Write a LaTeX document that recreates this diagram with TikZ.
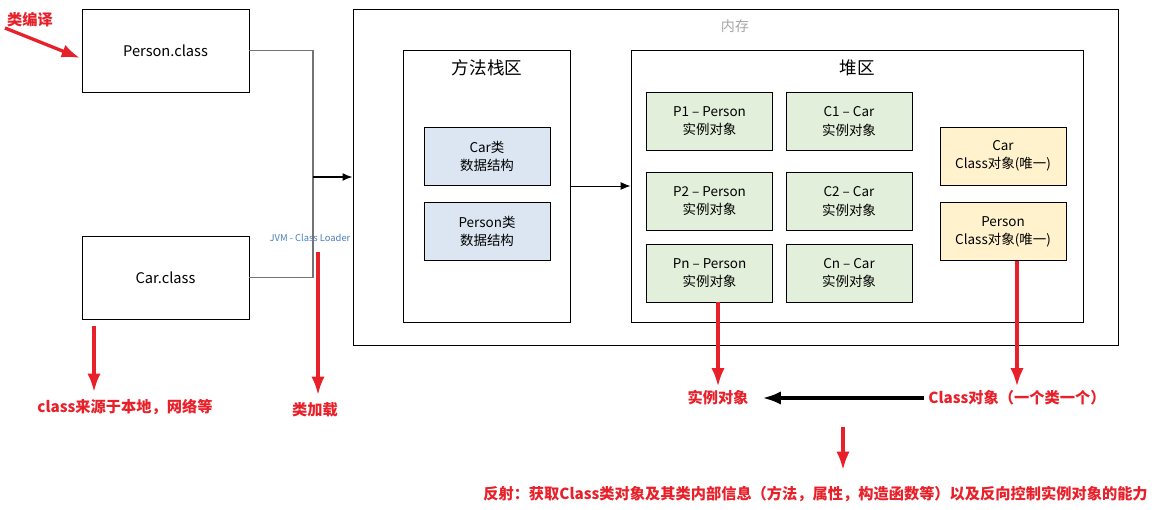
\documentclass[tikz,border=0pt]{standalone}
\usepackage{fontspec}
\setmainfont{Noto Sans CJK SC}
\usetikzlibrary{arrows.meta}
\definecolor{notered}{HTML}{E8202A}
\definecolor{loaderblue}{HTML}{4A7EBB}
\definecolor{datablue}{HTML}{DCE6F2}
\definecolor{objgreen}{HTML}{E2EFDA}
\definecolor{clsyellow}{HTML}{FFF2CC}
\definecolor{titlegray}{HTML}{A6A6A6}
\begin{document}
\begin{tikzpicture}[x=0.03cm,y=-0.03cm,
  box/.style={draw,line width=0.8pt,align=center,inner sep=0pt},
  filebox/.style={box,minimum width=5.01cm,minimum height=2.49cm,font=\fontsize{12.5}{14}\selectfont},
  areabox/.style={box,minimum width=#1,minimum height=8.16cm},
  smallbox/.style={box,minimum width=3.78cm,minimum height=1.74cm,font=\fontsize{11.5}{15.5}\selectfont},
  areatitle/.style={font=\fontsize{15}{18}\selectfont},
  note/.style={text=notered,font=\bfseries\fontsize{13}{15}\selectfont},
  redarrow/.style={draw=notered,line width=2.8pt,-{Latex[length=5.5mm,width=4mm]}},
  link/.style={draw=black!55,line width=1.2pt}]
\useasboundingbox (0,0) rectangle (1159,510);
% coordinates
\coordinate (join)          at (313,177);
\coordinate (compiletail)   at (  5, 28);
\coordinate (compiletip)    at ( 80, 58);
\coordinate (sourcetail)    at ( 94,326);
\coordinate (sourcetip)     at ( 94,392);
\coordinate (loadtail)      at (318,252);
\coordinate (loadtip)       at (318,395);
\coordinate (reflecttail)   at (843,427);
\coordinate (reflecttip)    at (843,470);
% memory
\node[box,minimum width=22.95cm,minimum height=10.08cm] (mem) at (735.5,177) {};
\node[text=titlegray,font=\fontsize{12}{14}\selectfont] (memtitle) at (735,26) {内存};
\node[areabox=5.01cm] (stack) at (486.5,186) {};
\node[areatitle] (stacktitle) at (487,68) {方法栈区};
\node[areabox=13.56cm] (heap) at (857,186) {};
\node[areatitle] (heaptitle) at (857,68) {堆区};
% class data
\node[smallbox,fill=datablue] (cardata)    at (487,156)   {Car类\\数据结构};
\node[smallbox,fill=datablue] (persondata) at (487,231.5) {Person类\\数据结构};
% instance objects
\node[smallbox,fill=objgreen] (p1) at (709.5,121.5) {P1 – Person\\实例对象};
\node[smallbox,fill=objgreen] (c1) at (849,121.5)   {C1 – Car\\实例对象};
\node[smallbox,fill=objgreen] (p2) at (709.5,201.5) {P2 – Person\\实例对象};
\node[smallbox,fill=objgreen] (c2) at (849,201.5)   {C2 – Car\\实例对象};
\node[smallbox,fill=objgreen] (pn) at (709.5,273)   {Pn – Person\\实例对象};
\node[smallbox,fill=objgreen] (cn) at (849,273)     {Cn – Car\\实例对象};
% class objects
\node[smallbox,fill=clsyellow] (carcls)    at (1003,156)   {Car\\Class对象(唯一)};
\node[smallbox,fill=clsyellow] (personcls) at (1003,231.5) {Person\\Class对象(唯一)};
% class files
\node[filebox] (person) at (165.5,50.5)  {Person.class};
\node[filebox] (car)    at (165.5,277.5) {Car.class};
% class loader
\draw[link] (person.east) -| (join);
\draw[link] (car.east) -| (join);
\draw[line width=1.2pt,-{Latex[length=3mm,width=2.4mm]}] (join) -- (mem.west);
\node[text=loaderblue,font=\fontsize{8}{9}\selectfont] (loader) at (310,238) {JVM - Class Loader};
\draw[line width=0.8pt,-{Latex[length=3mm,width=2.4mm]}] (stack.east) -- (heap.west);
% notes
\node[note] (compile) at (30,20) {类编译};
\draw[redarrow] (compiletail) -- (compiletip);
\node[note] (source) at (125,407) {class来源于本地，网络等};
\draw[redarrow] (sourcetail) -- (sourcetip);
\node[note] (load) at (315,410) {类加载};
\draw[redarrow] (loadtail) -- (loadtip);
\node[note] (inst) at (718,398) {实例对象};
\draw[redarrow] (inst |- pn.south) -- (inst.north);
\node[note] (clsobj) at (1017,398) {Class对象（一个类一个）};
\draw[redarrow] (clsobj |- personcls.south) -- (clsobj.north);
\draw[line width=2.8pt,-{Latex[length=5.5mm,width=4mm]},shorten >=3mm] (clsobj.west) -- (inst.east);
\node[note] (reflect) at (815.5,494) {反射：获取Class类对象及其类内部信息（方法，属性，构造函数等）以及反向控制实例对象的能力};
\draw[redarrow] (reflecttail) -- (reflecttip);
\end{tikzpicture}
\end{document}
